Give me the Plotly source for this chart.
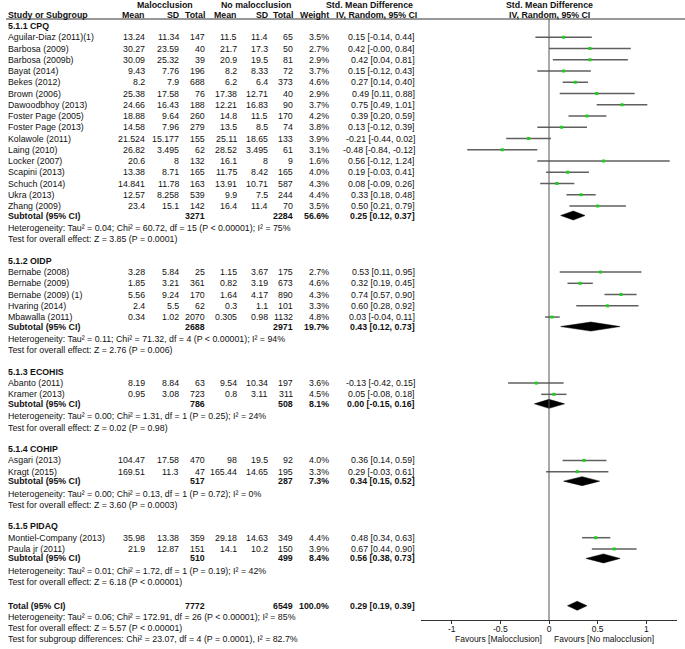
import plotly.graph_objects as go

W, H = 685, 649
FONT = "Liberation Sans, Arial, sans-serif"
FS = 8.8

# ---------------- data ----------------
group_names = ["5.1.1 CPQ", "5.1.2 OIDP", "5.1.3 ECOHIS", "5.1.4 COHIP", "5.1.5 PIDAQ"]

study = ["Aguilar-Diaz (2011)(1)", "Barbosa (2009)", "Barbosa (2009b)", "Bayat (2014)", "Bekes (2012)",
         "Brown (2006)", "Dawoodbhoy (2013)", "Foster Page (2005)", "Foster Page (2013)", "Kolawole (2011)",
         "Laing (2010)", "Locker (2007)", "Scapini (2013)", "Schuch (2014)", "Ukra (2013)", "Zhang (2009)",
         "Bernabe (2008)", "Bernabe (2009)", "Bernabe (2009) (1)", "Hvaring (2014)", "Mbawalla (2011)",
         "Abanto (2011)", "Kramer (2013)",
         "Asgari (2013)", "Kragt (2015)",
         "Montiel-Company (2013)", "Paula jr (2011)"]
group_of = [0] * 16 + [1] * 5 + [2] * 2 + [3] * 2 + [4] * 2

mal_mean = [13.24, 30.27, 30.09, 9.43, 8.2, 25.38, 24.66, 18.88, 14.58, 21.524, 26.82, 20.6, 13.38, 14.841, 12.57, 23.4,
            3.28, 1.85, 5.56, 2.4, 0.34, 8.19, 0.95, 104.47, 169.51, 35.98, 21.9]
mal_sd = [11.34, 23.59, 25.32, 7.76, 7.9, 17.58, 16.43, 9.64, 7.96, 15.177, 3.495, 8, 8.71, 11.78, 8.258, 15.1,
          5.84, 3.21, 9.24, 5.5, 1.02, 8.84, 3.08, 17.58, 11.3, 13.38, 12.87]
mal_n = [147, 40, 39, 196, 688, 76, 188, 260, 279, 155, 62, 132, 165, 163, 539, 142,
         25, 361, 170, 62, 2070, 63, 723, 470, 47, 359, 151]
no_mean = [11.5, 21.7, 20.9, 8.2, 6.2, 17.38, 12.21, 14.8, 13.5, 25.11, 28.52, 16.1, 11.75, 13.91, 9.9, 16.4,
           1.15, 0.82, 1.64, 0.3, 0.305, 9.54, 0.8, 98, 165.44, 29.18, 14.1]
no_sd = [11.4, 17.3, 19.5, 8.33, 6.4, 12.71, 16.83, 11.5, 8.5, 18.65, 3.495, 8, 8.42, 10.71, 7.5, 11.4,
         3.67, 3.19, 4.17, 1.1, 0.98, 10.34, 3.11, 19.5, 14.65, 14.63, 10.2]
no_n = [65, 50, 81, 72, 373, 40, 90, 170, 74, 133, 61, 9, 165, 587, 244, 70,
        175, 673, 890, 101, 1132, 197, 311, 92, 195, 349, 150]
weight = [3.5, 2.7, 2.9, 3.7, 4.6, 2.9, 3.7, 4.2, 3.8, 3.9, 3.1, 1.6, 4.0, 4.3, 4.4, 3.5,
          2.7, 4.6, 4.3, 3.3, 4.8, 3.6, 4.5, 4.0, 3.3, 4.4, 3.9]
smd = [0.15, 0.42, 0.42, 0.15, 0.27, 0.49, 0.75, 0.39, 0.13, -0.21, -0.48, 0.56, 0.19, 0.08, 0.33, 0.50,
       0.53, 0.32, 0.74, 0.60, 0.03, -0.13, 0.05, 0.36, 0.29, 0.48, 0.67]
ci_lo = [-0.14, -0.00, 0.04, -0.12, 0.14, 0.11, 0.49, 0.20, -0.12, -0.44, -0.84, -0.12, -0.03, -0.09, 0.18, 0.21,
         0.11, 0.19, 0.57, 0.28, -0.04, -0.42, -0.08, 0.14, -0.03, 0.34, 0.44]
ci_hi = [0.44, 0.84, 0.81, 0.43, 0.40, 0.88, 1.01, 0.59, 0.39, 0.02, -0.12, 1.24, 0.41, 0.26, 0.48, 0.79,
         0.95, 0.45, 0.90, 0.92, 0.11, 0.15, 0.18, 0.59, 0.61, 0.63, 0.90]

sub_mal_n = [3271, 2688, 786, 517, 510]
sub_no_n = [2284, 2971, 508, 287, 499]
sub_weight = [56.6, 19.7, 8.1, 7.3, 8.4]
sub_smd = [0.25, 0.43, 0.00, 0.34, 0.56]
sub_lo = [0.12, 0.12, -0.15, 0.15, 0.38]
sub_hi = [0.37, 0.73, 0.16, 0.52, 0.73]
sub_het = ["Heterogeneity: Tau² = 0.04; Chi² = 60.72, df = 15 (P < 0.00001); I² = 75%",
           "Heterogeneity: Tau² = 0.11; Chi² = 71.32, df = 4 (P < 0.00001); I² = 94%",
           "Heterogeneity: Tau² = 0.00; Chi² = 1.31, df = 1 (P = 0.25); I² = 24%",
           "Heterogeneity: Tau² = 0.00; Chi² = 0.13, df = 1 (P = 0.72); I² = 0%",
           "Heterogeneity: Tau² = 0.01; Chi² = 1.72, df = 1 (P = 0.19); I² = 42%"]
sub_test = ["Test for overall effect: Z = 3.85 (P = 0.0001)",
            "Test for overall effect: Z = 2.76 (P = 0.006)",
            "Test for overall effect: Z = 0.02 (P = 0.98)",
            "Test for overall effect: Z = 3.60 (P = 0.0003)",
            "Test for overall effect: Z = 6.18 (P < 0.00001)"]

total_mal_n, total_no_n, total_weight = 7772, 6549, 100.0
total_smd, total_lo, total_hi = 0.29, 0.19, 0.39
total_notes = ["Heterogeneity: Tau² = 0.06; Chi² = 172.91, df = 26 (P < 0.00001); I² = 85%",
               "Test for overall effect: Z = 5.57 (P < 0.00001)",
               "Test for subgroup differences: Chi² = 23.07, df = 4 (P = 0.0001), I² = 82.7%"]

tick_vals = [-1, -0.5, 0, 0.5, 1]
tick_text = ["-1", "-0.5", "0", "0.5", "1"]

# ---------------- layout helpers ----------------
X_NAME = 7
COL = dict(m1=146, s1=180, n1=206, m2=238, s2=269, n2=294, w=330, ci=416)
AX_LEFT, AX_RIGHT = 421, 677
X_RANGE = [-1.315, 1.315]
AXIS_Y = 620
HEADER_LINE_Y = 19

ann = []


def txt(x, y, s, anchor="left", bold=False, size=FS):
    ann.append(dict(x=x / W, y=y, xref="paper", yref="y",
                    text=f"<b>{s}</b>" if bold else s, showarrow=False,
                    xanchor=anchor, yanchor="middle", borderpad=0,
                    font=dict(size=size, family=FONT, color="#111")))


def fmt(v):
    return f"{v:g}"


def ci_text(e, l, h):
    return f"{e:.2f} [{l:.2f}, {h:.2f}]"


# headers
txt(165, 5, "Malocclusion", "center", True)
txt(256, 5, "No malocclusion", "center", True)
txt(369, 5, "Std. Mean Difference", "center", True)
txt(549, 5, "Std. Mean Difference", "center", True)
txt(X_NAME, 15, "Study or Subgroup", "left", True)
for key, lab in [("m1", "Mean"), ("s1", "SD"), ("n1", "Total"), ("m2", "Mean"), ("s2", "SD"),
                 ("n2", "Total"), ("w", "Weight")]:
    txt(COL[key], 15, lab, "right", True)
txt(418, 15, "IV, Random, 95% CI", "right", True)
txt(549, 15, "IV, Random, 95% CI", "center", True)

ROW = 11.25
study_y = [None] * len(study)
sub_y = []
y = 26
for g, gname in enumerate(group_names):
    txt(X_NAME, y, gname, "left", True)
    for i in range(len(study)):
        if group_of[i] != g:
            continue
        y += ROW
        study_y[i] = y
        txt(X_NAME, y, study[i])
        txt(COL["m1"], y, fmt(mal_mean[i]), "right")
        txt(COL["s1"], y, fmt(mal_sd[i]), "right")
        txt(COL["n1"], y, str(mal_n[i]), "right")
        txt(COL["m2"], y, fmt(no_mean[i]), "right")
        txt(COL["s2"], y, fmt(no_sd[i]), "right")
        txt(COL["n2"], y, str(no_n[i]), "right")
        txt(COL["w"], y, f"{weight[i]:.1f}%", "right")
        txt(COL["ci"], y, ci_text(smd[i], ci_lo[i], ci_hi[i]), "right")
    y += 9.5
    sub_y.append(y)
    txt(X_NAME, y, "Subtotal (95% CI)", "left", True)
    txt(COL["n1"], y, str(sub_mal_n[g]), "right", True)
    txt(COL["n2"], y, str(sub_no_n[g]), "right", True)
    txt(COL["w"], y, f"{sub_weight[g]:.1f}%", "right", True)
    txt(COL["ci"], y, ci_text(sub_smd[g], sub_lo[g], sub_hi[g]), "right", True)
    y += 12.5
    txt(X_NAME, y, sub_het[g])
    y += 11.3
    txt(X_NAME, y, sub_test[g])
    y += 21.5 if g < len(group_names) - 1 else 23.5

total_y = y
txt(X_NAME, y, "Total (95% CI)", "left", True)
txt(COL["n1"], y, str(total_mal_n), "right", True)
txt(COL["n2"], y, str(total_no_n), "right", True)
txt(COL["w"], y, f"{total_weight:.1f}%", "right", True)
txt(COL["ci"], y, ci_text(total_smd, total_lo, total_hi), "right", True)
for k, note in enumerate(total_notes):
    y += 11.0
    txt(X_NAME, y, note)

# favours labels
txt(543, 639, "Favours [Malocclusion]", "right", False, 8.5)
txt(553, 639, "Favours [No malocclusion]", "left", False, 8.5)

# ---------------- traces ----------------
fig = go.Figure()

lx, ly = [], []
for i in range(len(study)):
    lx += [ci_lo[i], ci_hi[i], None]
    ly += [study_y[i], study_y[i], None]
fig.add_trace(go.Scatter(x=lx, y=ly, mode="lines", line=dict(color="#5f5f5f", width=1.5),
                         hoverinfo="skip", showlegend=False))
fig.add_trace(go.Scatter(x=smd, y=study_y, mode="markers",
                         marker=dict(symbol="square", size=3, color="#19d219", line=dict(width=0)),
                         showlegend=False))

DH = 4.5
for e, l, h, yy in list(zip(sub_smd, sub_lo, sub_hi, sub_y)) + [(total_smd, total_lo, total_hi, total_y)]:
    fig.add_trace(go.Scatter(x=[l, e, h, e, l], y=[yy, yy - DH, yy, yy + DH, yy], mode="lines",
                             fill="toself", fillcolor="black", line=dict(color="black", width=0.5),
                             hoverinfo="skip", showlegend=False))

shapes = [
    dict(type="line", xref="x", yref="y", x0=0, x1=0, y0=HEADER_LINE_Y, y1=AXIS_Y,
         line=dict(color="#555", width=1)),
    dict(type="line", xref="paper", yref="y", x0=6 / W, x1=1, y0=HEADER_LINE_Y, y1=HEADER_LINE_Y,
         line=dict(color="#333", width=1)),
]

fig.update_layout(
    width=W, height=H, margin=dict(l=0, r=0, t=0, b=0),
    paper_bgcolor="white", plot_bgcolor="rgba(0,0,0,0)",
    annotations=ann, shapes=shapes, showlegend=False,
    xaxis=dict(domain=[AX_LEFT / W, AX_RIGHT / W], range=X_RANGE, anchor="free",
               position=1 - AXIS_Y / H, showline=True, linecolor="#333", linewidth=1,
               ticks="outside", ticklen=3, tickcolor="#333", tickvals=tick_vals, ticktext=tick_text,
               ticklabelstandoff=-2,
               tickfont=dict(size=8.5, family=FONT, color="#111"), showgrid=False, zeroline=False,
               fixedrange=True),
    yaxis=dict(domain=[0, 1], range=[H, 0], visible=False, fixedrange=True),
)

fig.write_html("out.html", config={"displayModeBar": False},
               post_script="document.body.style.margin='0px';")
